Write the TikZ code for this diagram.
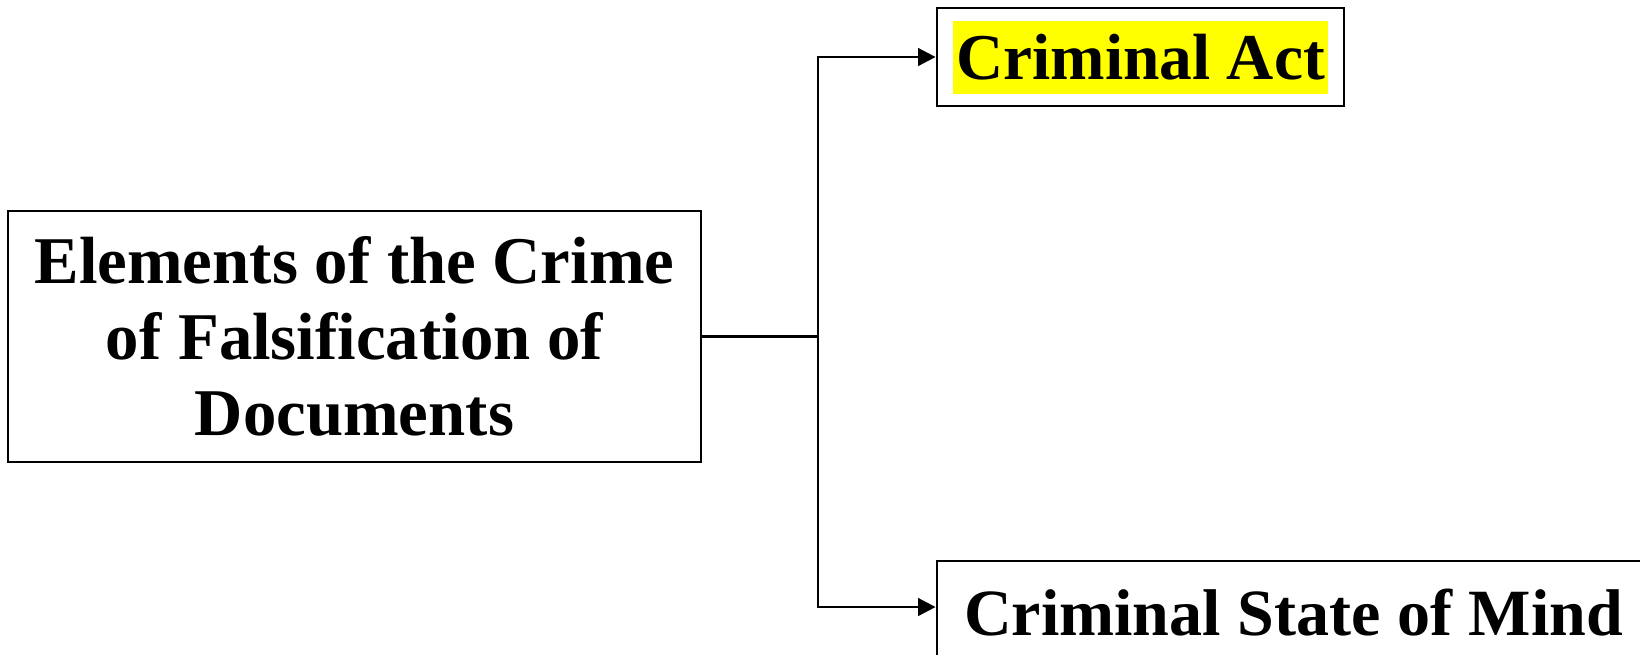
\documentclass[tikz,border=0pt]{standalone}
\usepackage{fontspec}
\setmainfont{Liberation Serif}
\usepackage{xcolor}
\usepackage{tikz}
\usetikzlibrary{positioning, arrows.meta}
\definecolor{markyellow}{HTML}{FFFF00}

\begin{document}
\begin{tikzpicture}[
    elembox/.style={draw=black, line width=0.8pt, fill=white, inner sep=0pt},
    elemtext/.style={font=\fontsize{19}{21.6}\selectfont\bfseries, align=center},
    link/.style={line width=0.8pt, -{Triangle[length=5pt, width=5pt]}}]
  \useasboundingbox (0,0) rectangle (16.4,-6.54);
  \node[elembox, elemtext, minimum width=6.93cm, minimum height=2.51cm]
    (elements) at (3.545,-3.365) {Elements of the Crime\\of Falsification of\\Documents};
  \node[elembox, minimum width=4.07cm, minimum height=0.98cm] (act) at (11.405,-0.57) {};
  \node[elemtext, font=\fontsize{18.6}{21}\selectfont\bfseries, fill=markyellow,
        inner xsep=1pt, minimum width=3.65cm, minimum height=0.73cm]
    (acttext) at (act.center) {Criminal Act};
  \node[elembox, elemtext, font=\fontsize{18.8}{21}\selectfont\bfseries,
        minimum width=7.13cm, minimum height=1.04cm]
    (mind) at (12.935,-6.13) {Criminal State of Mind};
  \coordinate (split) at (8.18,-3.365);
  \draw[line width=0.8pt] (elements.east) -- (split);
  \draw[link] (split) |- ([yshift=0.06cm]mind.west);
  \draw[link] (split) |- (act.west);
\end{tikzpicture}
\end{document}
